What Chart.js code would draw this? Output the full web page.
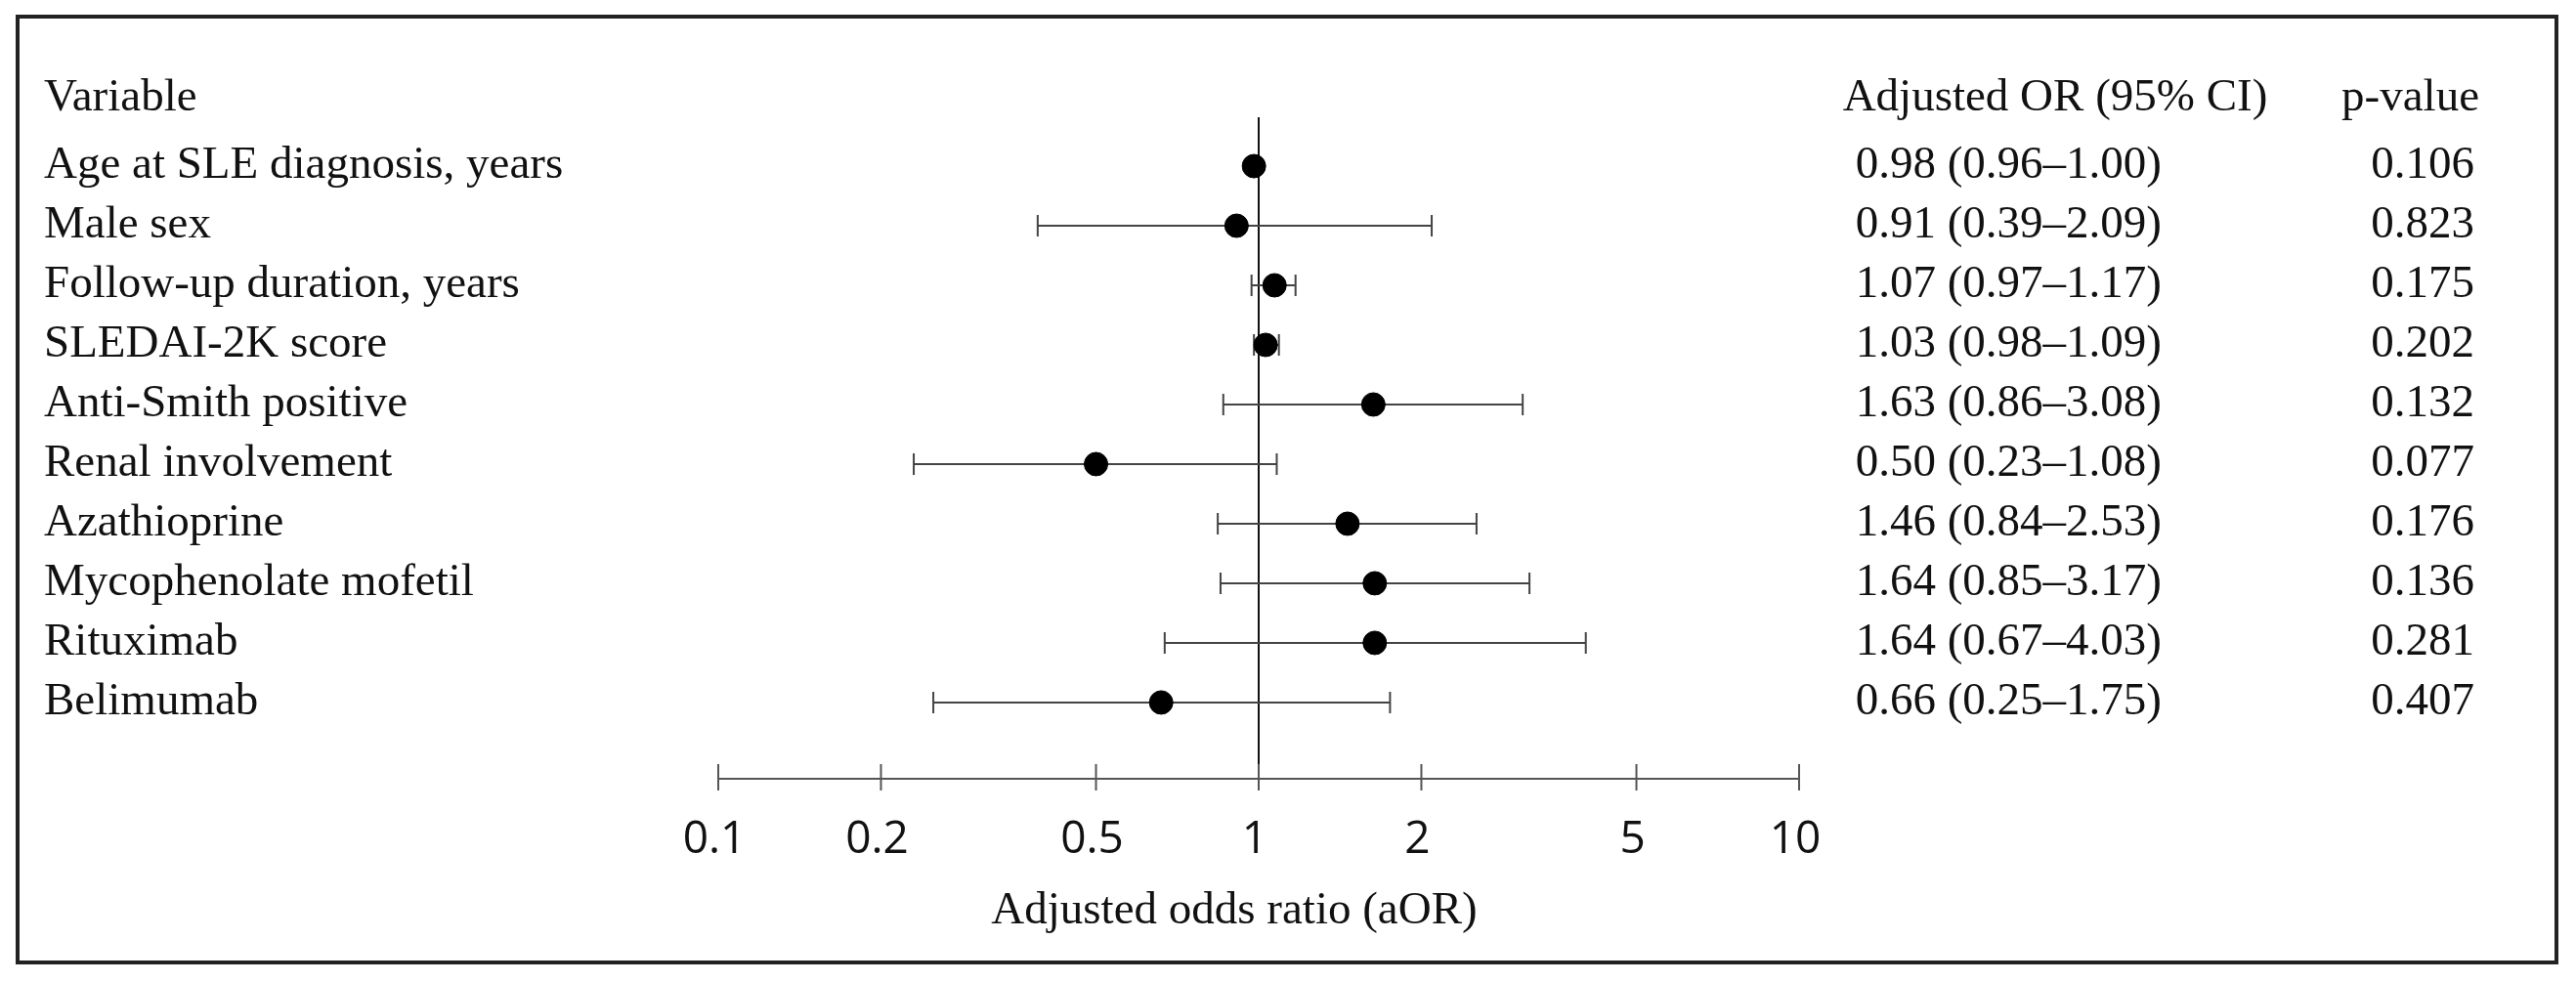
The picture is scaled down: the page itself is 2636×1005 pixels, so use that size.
<!DOCTYPE html>
<html>
<head>
<meta charset="utf-8">
<script src="https://cdn.jsdelivr.net/npm/chart.js@4.4.1/dist/chart.umd.min.js"></script>
<style>
  html, body { margin: 0; padding: 0; background: #fff; }
  #wrap { width: 2636px; height: 1005px; position: relative; }
</style>
</head>
<body>
<div id="wrap"><canvas id="forest"></canvas></div>
<script>
// data
const variables = [
	'Age at SLE diagnosis, years',
	'Male sex',
	'Follow-up duration, years',
	'SLEDAI-2K score',
	'Anti-Smith positive',
	'Renal involvement',
	'Azathioprine',
	'Mycophenolate mofetil',
	'Rituximab',
	'Belimumab',
];
const aOR = [0.98, 0.91, 1.07, 1.03, 1.63, 0.50, 1.46, 1.64, 1.64, 0.66];
const ciLow = [0.96, 0.39, 0.97, 0.98, 0.86, 0.23, 0.84, 0.85, 0.67, 0.25];
const ciHigh = [1.00, 2.09, 1.17, 1.09, 3.08, 1.08, 2.53, 3.17, 4.03, 1.75];
const pValues = ['0.106', '0.823', '0.175', '0.202', '0.132', '0.077', '0.176', '0.136', '0.281', '0.407'];
const xTicks = [0.1, 0.2, 0.5, 1, 2, 5, 10];

const serif = '"Liberation Serif", "DejaVu Serif", serif';
const sans = '"Open Sans", "DejaVu Sans", sans-serif';
const fmt = (v) => v.toFixed(2);

// ================= forest plot drawing plugin =================
const forestPlugin = {
	id: 'forest',
	beforeDatasetsDraw(chart) {
		const { ctx, scales: { x, y }, chartArea } = chart;
		ctx.save();

		// frame
		ctx.strokeStyle = '#222';
		ctx.lineWidth = 4;
		ctx.strokeRect(18, 17, 2598, 968);

		// reference line at 1
		ctx.strokeStyle = '#111';
		ctx.lineWidth = 2;
		ctx.beginPath();
		ctx.moveTo(x.getPixelForValue(1), chartArea.top);
		ctx.lineTo(x.getPixelForValue(1), chartArea.bottom);
		ctx.stroke();

		// confidence intervals
		ctx.strokeStyle = '#444';
		ctx.lineWidth = 2;
		aOR.forEach((v, i) => {
			const py = y.getPixelForValue(i);
			const x0 = x.getPixelForValue(ciLow[i]);
			const x1 = x.getPixelForValue(ciHigh[i]);
			ctx.beginPath();
			ctx.moveTo(x0, py);
			ctx.lineTo(x1, py);
			ctx.moveTo(x0, py - 11);
			ctx.lineTo(x0, py + 11);
			ctx.moveTo(x1, py - 11);
			ctx.lineTo(x1, py + 11);
			ctx.stroke();
		});

		// x axis
		const ay = chartArea.bottom;
		ctx.strokeStyle = '#555';
		ctx.beginPath();
		ctx.moveTo(x.getPixelForValue(0.1), ay);
		ctx.lineTo(x.getPixelForValue(10), ay);
		xTicks.forEach((t) => {
			const px = x.getPixelForValue(t);
			ctx.moveTo(px, ay - 15);
			ctx.lineTo(px, ay + 12);
		});
		ctx.stroke();

		ctx.fillStyle = '#111';
		ctx.textAlign = 'center';
		ctx.textBaseline = 'middle';
		ctx.font = '46px ' + sans;
		xTicks.forEach((t) => {
			ctx.fillText(String(t), x.getPixelForValue(t) - 4, 860);
		});
		ctx.font = '47px ' + serif;
		ctx.fillText('Adjusted odds ratio (aOR)', 1263, 933);

		// text columns
		ctx.textAlign = 'left';
		ctx.fillText('Variable', 45, 101);
		variables.forEach((v, i) => ctx.fillText(v, 45, y.getPixelForValue(i)));

		ctx.textAlign = 'center';
		ctx.fillText('Adjusted OR (95% CI)', 2103, 101);
		ctx.textAlign = 'right';
		ctx.fillText('p-value', 2537, 101);
		aOR.forEach((v, i) => {
			const py = y.getPixelForValue(i);
			ctx.fillText(`${fmt(v)} (${fmt(ciLow[i])}\u2013${fmt(ciHigh[i])})`, 2212, py);
			ctx.fillText(pValues[i], 2532, py);
		});

		ctx.restore();
	},
};

new Chart(document.getElementById('forest'), {
	type: 'scatter',
	data: {
		datasets: [
			{
				data: aOR.map((v, i) => ({ x: v, y: i })),
				backgroundColor: '#000',
				borderColor: '#000',
				pointRadius: 12,
				pointHoverRadius: 12,
			},
		],
	},
	options: {
		responsive: true,
		maintainAspectRatio: false,
		animation: false,
		layout: { padding: { left: 735, right: 795, top: 120, bottom: 208 } },
		scales: {
			x: { type: 'logarithmic', min: 0.1, max: 10, display: false },
			y: { min: -0.82, max: 10.28, reverse: true, display: false },
		},
		plugins: { legend: { display: false }, tooltip: { enabled: false } },
	},
	plugins: [forestPlugin],
});
</script>
</body>
</html>
